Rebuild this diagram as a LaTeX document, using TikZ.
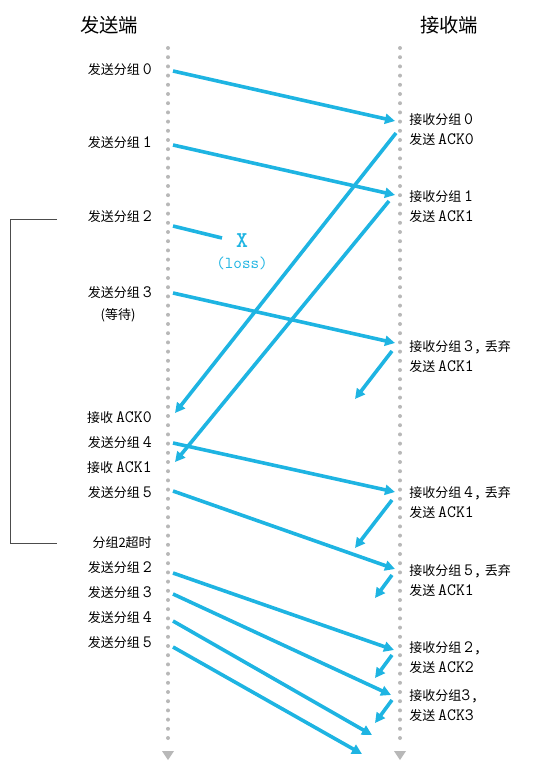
\documentclass[tikz,border=0pt]{standalone}
\usepackage{fontspec}
\setmainfont{Noto Sans CJK SC}
\usetikzlibrary{arrows.meta}
\definecolor{pktblue}{RGB}{30,180,226}
\definecolor{lanegray}{RGB}{184,184,184}
\newcommand{\mn}[1]{{\ttfamily\fontsize{13}{14}\selectfont #1}}

\begin{document}
\begin{tikzpicture}[x=0.75pt, y=-0.75pt,
  title/.style={inner sep=0pt, font=\fontsize{14.5}{16}\selectfont},
  sndlbl/.style={anchor=east, inner sep=0pt, font=\fontsize{9.75}{12}\selectfont},
  rcvlbl/.style={anchor=west, inner sep=0pt, align=left, font=\fontsize{9.75}{15}\selectfont},
  lane/.style={lanegray, line width=3pt, line cap=round, dash pattern=on 0pt off 6.9pt},
  pkt/.style={pktblue, line width=2.7pt, -{Triangle[length=7.5pt,width=7.5pt]}},
  >=Stealth]
  \useasboundingbox (0,0) rectangle (544,768);

  % titles
  \node[title] (sender)   at (109,25) {发送端};
  \node[title] (receiver) at (449,25) {接收端};

  % time lines
  \coordinate (ltop) at (168,48);  \coordinate (lbot) at (168,744);
  \coordinate (rtop) at (400,48);  \coordinate (rbot) at (400,744);
  \draw[lane] (ltop) -- (lbot);
  \draw[lane] (rtop) -- (rbot);
  \fill[lanegray] (162,751) -- (174,751) -- (168,760) -- cycle;
  \fill[lanegray] (394,751) -- (406,751) -- (400,760) -- cycle;

  % sender side
  \node[sndlbl] (s0)   at (152,70)  {发送分组 \mn{0}};
  \node[sndlbl] (s1)   at (152,143) {发送分组 \mn{1}};
  \node[sndlbl] (s2)   at (152,217) {发送分组 \mn{2}};
  \node[sndlbl] (s3)   at (152,293) {发送分组 \mn{3}};
  \node[inner sep=0pt, font=\fontsize{9.75}{12}\selectfont] (wait) at (118,315) {(等待)};
  \node[sndlbl] (ack0) at (152,418) {接收 \mn{ACK0}};
  \node[sndlbl] (s4)   at (152,443) {发送分组 \mn{4}};
  \node[sndlbl] (ack1) at (152,468) {接收 \mn{ACK1}};
  \node[sndlbl] (s5)   at (152,493) {发送分组 \mn{5}};
  \node[sndlbl] (tmo)  at (152,543) {分组2超时};
  \node[sndlbl] (rs2)  at (152,568) {发送分组 \mn{2}};
  \node[sndlbl] (rs3)  at (152,593) {发送分组 \mn{3}};
  \node[sndlbl] (rs4)  at (152,618) {发送分组 \mn{4}};
  \node[sndlbl] (rs5)  at (152,643) {发送分组 \mn{5}};

  % receiver side
  \node[rcvlbl] (r0) at (409,130) {接收分组 \mn{0}\\发送 \mn{ACK0}};
  \node[rcvlbl] (r1) at (409,207) {接收分组 \mn{1}\\发送 \mn{ACK1}};
  \node[rcvlbl] (r3) at (409,357) {接收分组 \mn{3,} 丢弃\\发送 \mn{ACK1}};
  \node[rcvlbl] (r4) at (409,503) {接收分组 \mn{4,} 丢弃\\发送 \mn{ACK1}};
  \node[rcvlbl] (r5) at (409,581) {接收分组 \mn{5,} 丢弃\\发送 \mn{ACK1}};
  \node[rcvlbl] (r2) at (409,658) {接收分组 \mn{2,}\\发送 \mn{ACK2}};
  \node[rcvlbl] (r6) at (409,706) {接收分组\mn{3,}\\发送 \mn{ACK3}};

  % lost packet
  \node[text=pktblue, inner sep=0pt, font=\ttfamily\bfseries\fontsize{17}{18}\selectfont] (lossx) at (242,241) {X};
  \node[text=pktblue, inner sep=0pt, font=\ttfamily\fontsize{12.5}{13}\selectfont] (loss) at (242,263) {(loss)};

  % arrow ends
  \coordinate (a0s) at (173,71);  \coordinate (a0e) at (395,121);
  \coordinate (a1s) at (173,145); \coordinate (a1e) at (395,195);
  \coordinate (a2s) at (173,226); \coordinate (a2e) at (222,238);
  \coordinate (a3s) at (173,293); \coordinate (a3e) at (395,343);
  \coordinate (k0s) at (396,133); \coordinate (k0e) at (175,413);
  \coordinate (k1s) at (389,201); \coordinate (k1e) at (175,462);
  \coordinate (d3s) at (392,351); \coordinate (d3e) at (355,399);
  \coordinate (a4s) at (173,443); \coordinate (a4e) at (395,492);
  \coordinate (d4s) at (392,500); \coordinate (d4e) at (355,548);
  \coordinate (a5s) at (173,491); \coordinate (a5e) at (395,569);
  \coordinate (d5s) at (392,575); \coordinate (d5e) at (375,598);
  \coordinate (b2s) at (173,573); \coordinate (b2e) at (394,650);
  \coordinate (k2s) at (392,655); \coordinate (k2e) at (375,678);
  \coordinate (b3s) at (173,594); \coordinate (b3e) at (391,695);
  \coordinate (k3s) at (392,700); \coordinate (k3e) at (375,723);
  \coordinate (b4s) at (173,621); \coordinate (b4e) at (372,735);
  \coordinate (b5s) at (173,647); \coordinate (b5e) at (362,754);

  % packets and acks
  \draw[pkt] (a0s) -- (a0e);
  \draw[pkt] (a1s) -- (a1e);
  \draw[pktblue, line width=2.7pt] (a2s) -- (a2e);
  \draw[pkt] (a3s) -- (a3e);
  \draw[pkt] (k0s) -- (k0e);
  \draw[pkt] (k1s) -- (k1e);
  \draw[pkt] (d3s) -- (d3e);
  \draw[pkt] (a4s) -- (a4e);
  \draw[pkt] (d4s) -- (d4e);
  \draw[pkt] (a5s) -- (a5e);
  \draw[pkt] (d5s) -- (d5e);
  \draw[pkt] (b2s) -- (b2e);
  \draw[pkt] (k2s) -- (k2e);
  \draw[pkt] (b3s) -- (b3e);
  \draw[pkt] (k3s) -- (k3e);
  \draw[pkt] (b4s) -- (b4e);
  \draw[pkt] (b5s) -- (b5e);

  % timeout bracket
  \coordinate (brtop) at (57,219);
  \coordinate (brbot) at (57,543);
  \draw[black!70, line width=0.7pt] (brtop) -- (10,219) -- (10,543) -- (brbot);
\end{tikzpicture}
\end{document}
